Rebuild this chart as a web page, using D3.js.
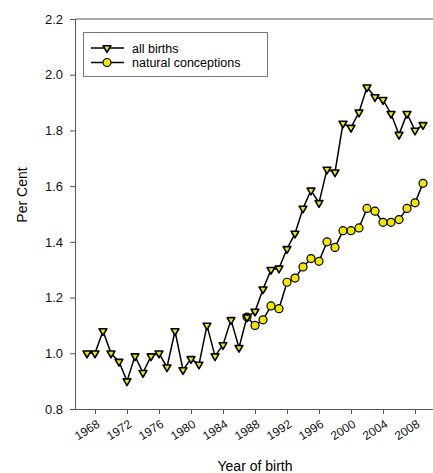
<!DOCTYPE html>
<html>
<head>
<meta charset="utf-8">
<script src="https://cdn.jsdelivr.net/npm/d3@7"></script>
<style>
  body { margin: 0; background: #fff; }
  svg { font-family: "Liberation Sans", Arial, sans-serif; }
</style>
</head>
<body>
<div id="chart"></div>
<script>
// data
const allYears = d3.range(1967, 2010);
const allBirths = [1.00, 1.00, 1.08, 1.00, 0.97, 0.90, 0.99, 0.93, 0.99, 1.00,
                   0.95, 1.08, 0.94, 0.98, 0.96, 1.10, 0.99, 1.03, 1.12, 1.02,
                   1.13, 1.15, 1.23, 1.30, 1.305, 1.375, 1.43, 1.52, 1.585, 1.54,
                   1.66, 1.65, 1.825, 1.81, 1.865, 1.955, 1.92, 1.91, 1.86, 1.785,
                   1.86, 1.80, 1.82];
const natYears = d3.range(1987, 2010);
const naturalConceptions = [1.13, 1.10, 1.12, 1.17, 1.16, 1.255, 1.27, 1.31, 1.34, 1.33,
                            1.40, 1.38, 1.44, 1.44, 1.45, 1.52, 1.51, 1.47, 1.47, 1.48,
                            1.52, 1.54, 1.61];
const xTicks = d3.range(1968, 2009, 4);
const yTicks = [0.8, 1.0, 1.2, 1.4, 1.6, 1.8, 2.0, 2.2];
const seriesNames = ["all births", "natural conceptions"];

const W = 433, H = 473;
const yellow = "#f0e800";

const svg = d3.select("#chart").append("svg")
  .attr("width", W).attr("height", H);

const x = d3.scaleLinear().domain([1965.5, 2010.25]).range([75, 433]);
const y = d3.scaleLinear().domain([0.8, 2.2]).range([409, 19]);

// top frame line
svg.append("line")
  .attr("x1", 75).attr("x2", 433)
  .attr("y1", y(2.2)).attr("y2", y(2.2))
  .attr("stroke", "#555").attr("stroke-width", 1);

// x axis
const gx = svg.append("g")
  .attr("transform", "translate(0," + y(0.8) + ")")
  .call(d3.axisBottom(x).tickValues(xTicks).tickFormat(d3.format("d")).tickSize(5).tickSizeOuter(0));
gx.select(".domain").attr("stroke", "#555").attr("d", "M70,0.5H433");
gx.selectAll(".tick line").attr("stroke", "#555");
gx.selectAll(".tick text")
  .attr("font-size", 12)
  .attr("fill", "#111")
  .attr("text-anchor", "end")
  .attr("dy", null)
  .attr("y", 0)
  .attr("transform", "translate(5,17) rotate(-33)");

// y axis
const gy = svg.append("g")
  .attr("transform", "translate(75,0)")
  .call(d3.axisLeft(y).tickValues(yTicks).tickFormat(d3.format(".1f")).tickSize(5).tickSizeOuter(0));
gy.select(".domain").attr("stroke", "#555");
gy.selectAll(".tick line").attr("stroke", "#555");
gy.selectAll(".tick text").attr("font-size", 13).attr("fill", "#111").attr("x", -12);

// axis titles
svg.append("text")
  .attr("x", 255).attr("y", 471)
  .attr("text-anchor", "middle")
  .attr("font-size", 14)
  .text("Year of birth");
svg.append("text")
  .attr("transform", "translate(27,195) rotate(-90)")
  .attr("text-anchor", "middle")
  .attr("font-size", 14)
  .text("Per Cent");

const line = d3.line().x(d => x(d[0])).y(d => y(d[1]));
const natData = natYears.map((yr, i) => [yr, naturalConceptions[i]]);
const allData = allYears.map((yr, i) => [yr, allBirths[i]]);

const tri = d3.symbol().type(d3.symbolTriangle).size(26);

// natural conceptions
svg.append("path").datum(natData)
  .attr("d", line).attr("fill", "none").attr("stroke", "#000").attr("stroke-width", 1.5);
svg.append("g").selectAll("circle").data(natData).enter().append("circle")
  .attr("cx", d => x(d[0])).attr("cy", d => y(d[1])).attr("r", 4)
  .attr("fill", yellow).attr("stroke", "#000").attr("stroke-width", 1.2);

// all births
svg.append("path").datum(allData)
  .attr("d", line).attr("fill", "none").attr("stroke", "#000").attr("stroke-width", 1.5);
svg.append("g").selectAll("path").data(allData).enter().append("path")
  .attr("d", tri)
  .attr("transform", d => "translate(" + x(d[0]) + "," + y(d[1]) + ") rotate(180)")
  .attr("fill", yellow).attr("stroke", "#000").attr("stroke-width", 1.6)
  .attr("stroke-linejoin", "round");

// legend
const legend = svg.append("g");
legend.append("rect")
  .attr("x", 83.5).attr("y", 32.5).attr("width", 184).attr("height", 44)
  .attr("fill", "#fff").attr("stroke", "#777").attr("stroke-width", 1);
const entries = legend.selectAll(".entry").data(seriesNames).enter().append("g")
  .attr("class", "entry")
  .attr("transform", (d, i) => "translate(0," + (48 + i * 14.5) + ")");
entries.append("line")
  .attr("x1", 91).attr("x2", 124).attr("y1", 0).attr("y2", 0)
  .attr("stroke", "#000").attr("stroke-width", 1.5);
entries.each(function(d, i) {
  const g = d3.select(this);
  if (i === 0) {
    g.append("path").attr("d", tri)
      .attr("transform", "translate(107,0) rotate(180)")
      .attr("fill", yellow).attr("stroke", "#000").attr("stroke-width", 1.6)
      .attr("stroke-linejoin", "round");
  } else {
    g.append("circle").attr("cx", 107).attr("cy", 0).attr("r", 4)
      .attr("fill", yellow).attr("stroke", "#000").attr("stroke-width", 1.2);
  }
});
entries.append("text")
  .attr("x", 132).attr("y", 4.5)
  .attr("font-size", 12.5)
  .text(d => d);
</script>
</body>
</html>
